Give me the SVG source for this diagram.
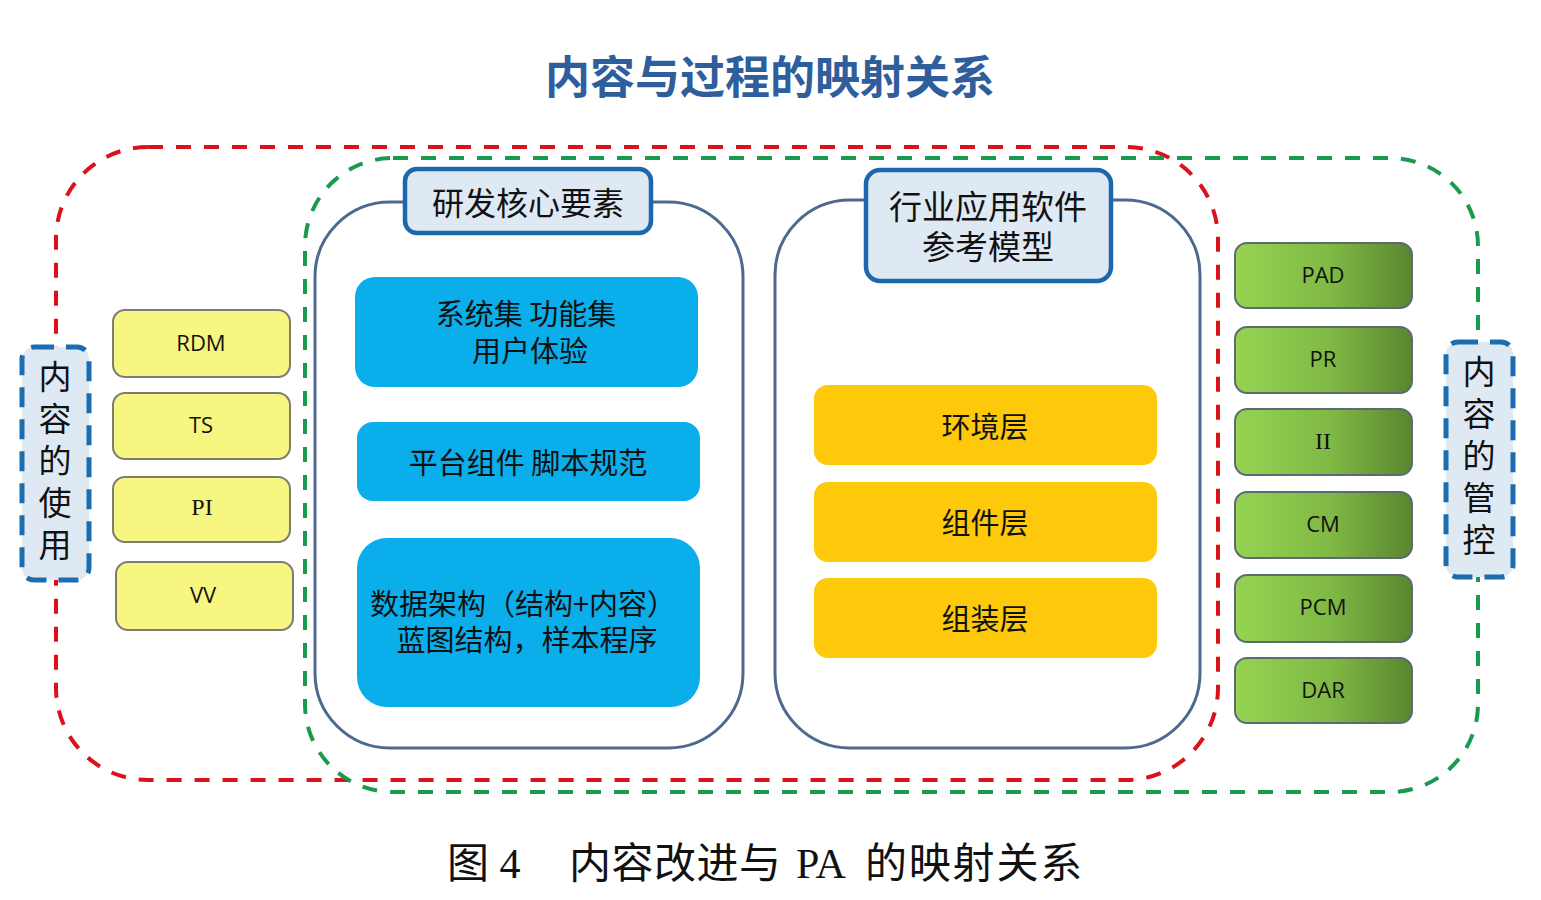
<svg xmlns="http://www.w3.org/2000/svg" width="1541" height="900" viewBox="0 0 1541 900">
<defs>
<linearGradient id="gGreen" x1="0" y1="0" x2="1" y2="0">
<stop offset="0" stop-color="#96d352"/>
<stop offset="0.55" stop-color="#7fb844"/>
<stop offset="1" stop-color="#5a8530"/>
</linearGradient>
<style>
.cjk{font-family:"Noto Sans CJK SC","Noto Sans",sans-serif;}
.lat{font-family:"Open Sans","Noto Sans",sans-serif;}
.yel rect{fill:#f6f680;stroke:#7c7c72;stroke-width:2;}
.grn rect{fill:url(#gGreen);stroke:#5b6b72;stroke-width:2;}
.blu rect{fill:#0aaeea;}
.org rect{fill:#fdc90a;}
.frame{fill:#ffffff;stroke:#4d6a8e;stroke-width:3;}
.lbl{fill:#dfe9f4;stroke:#1d68ad;stroke-width:4.5;}
.side{fill:#dfe9f4;stroke:#1d6cb0;stroke-width:5;stroke-dasharray:20 12;}
.t{text-anchor:middle;dominant-baseline:central;fill:#111;}
.vt{writing-mode:vertical-rl;text-anchor:start;fill:#111;font-size:33px;letter-spacing:9px;}
.cap{font-family:"Liberation Serif","Noto Sans CJK SC",serif;font-size:42px;fill:#111;}
</style>
</defs>
<rect width="1541" height="900" fill="#ffffff"/>

<text x="770" y="74" class="cjk" font-size="45" font-weight="bold" fill="#2e5e9c" text-anchor="middle" dominant-baseline="central">内容与过程的映射关系</text>

<g id="connectors">
<rect x="56" y="147" width="1162" height="633" rx="92" ry="92" fill="none" stroke="#d9121c" stroke-width="4" stroke-dasharray="15 13"/>
<rect x="305" y="158" width="1173" height="634" rx="88" ry="88" fill="none" stroke="#1a9a4e" stroke-width="4" stroke-dasharray="15 13"/>
</g>

<g id="core">
<rect class="frame" x="315" y="202" width="428" height="546" rx="75" ry="75"/>
<rect class="lbl" x="405" y="169" width="246" height="64" rx="12" ry="12"/>
<text x="528" y="201" class="cjk t" font-size="32">研发核心要素</text>
</g>
<g id="refmodel">
<rect class="frame" x="775" y="200" width="425" height="548" rx="75" ry="75"/>
<rect class="lbl" x="866" y="170" width="245" height="111" rx="14" ry="14"/>
<text class="cjk t" font-size="33"><tspan x="988" y="205">行业应用软件</tspan><tspan x="988" y="245">参考模型</tspan></text>
</g>

<g id="b1" class="blu"><rect x="355" y="277" width="343" height="110" rx="20"/>
<text class="cjk t" font-size="29" fill="#17304f"><tspan x="526" y="312">系统集 功能集</tspan><tspan x="530" y="349">用户体验</tspan></text></g>
<g id="b2" class="blu"><rect x="357" y="422" width="343" height="79" rx="16"/>
<text x="528" y="461" class="cjk t" font-size="29" fill="#17304f">平台组件 脚本规范</text></g>
<g id="b3" class="blu"><rect x="357" y="538" width="343" height="169" rx="30"/>
<text class="cjk t" font-size="29" fill="#17304f"><tspan x="523" y="602">数据架构（结构+内容）</tspan><tspan x="527" y="638">蓝图结构，样本程序</tspan></text></g>

<g id="o1" class="org"><rect x="814" y="385" width="343" height="80" rx="14"/>
<text x="985" y="425" class="cjk t" font-size="29">环境层</text></g>
<g id="o2" class="org"><rect x="814" y="482" width="343" height="80" rx="14"/>
<text x="985" y="521" class="cjk t" font-size="29">组件层</text></g>
<g id="o3" class="org"><rect x="814" y="578" width="343" height="80" rx="14"/>
<text x="985" y="617" class="cjk t" font-size="29">组装层</text></g>

<g id="rdm" class="yel"><rect x="113" y="310" width="177" height="67" rx="12"/><text x="201" y="342" class="lat t" font-size="22">RDM</text></g>
<g id="ts" class="yel"><rect x="113" y="393" width="177" height="66" rx="12"/><text x="201" y="424" class="lat t" font-size="22">TS</text></g>
<g id="pi" class="yel"><rect x="113" y="477" width="177" height="65" rx="12"/><text x="202" y="507" class="t" font-family="Liberation Serif,serif" font-size="24">PI</text></g>
<g id="vv" class="yel"><rect x="116" y="562" width="177" height="68" rx="12"/><text x="203" y="594" class="lat t" font-size="22">VV</text></g>

<g id="pad" class="grn"><rect x="1235" y="243" width="177" height="65" rx="12"/><text x="1323" y="274" class="lat t" font-size="22">PAD</text></g>
<g id="pr" class="grn"><rect x="1235" y="327" width="177" height="66" rx="12"/><text x="1323" y="358" class="lat t" font-size="22">PR</text></g>
<g id="ii" class="grn"><rect x="1235" y="409" width="177" height="66" rx="12"/><text x="1323" y="441" class="t" font-family="Liberation Serif,serif" font-size="24">II</text></g>
<g id="cm" class="grn"><rect x="1235" y="492" width="177" height="66" rx="12"/><text x="1323" y="523" class="lat t" font-size="22">CM</text></g>
<g id="pcm" class="grn"><rect x="1235" y="575" width="177" height="67" rx="12"/><text x="1323" y="606" class="lat t" font-size="22">PCM</text></g>
<g id="dar" class="grn"><rect x="1235" y="658" width="177" height="65" rx="12"/><text x="1323" y="689" class="lat t" font-size="22">DAR</text></g>

<g id="use">
<rect class="side" x="22" y="347" width="67" height="233" rx="12"/>
<text x="55" y="360" class="cjk vt">内容的使用</text>
</g>
<g id="ctrl">
<rect class="side" x="1446" y="342" width="67" height="235" rx="12"/>
<text x="1479" y="355" class="cjk vt">内容的管控</text>
</g>

<text x="447" y="878" class="cap">图 4</text>
<text x="569" y="878" class="cap" letter-spacing="0.5">内容改进与</text>
<text x="796" y="878" class="cap" font-size="45">PA</text>
<text x="865" y="878" class="cap" letter-spacing="1.8">的映射关系</text>
</svg>
